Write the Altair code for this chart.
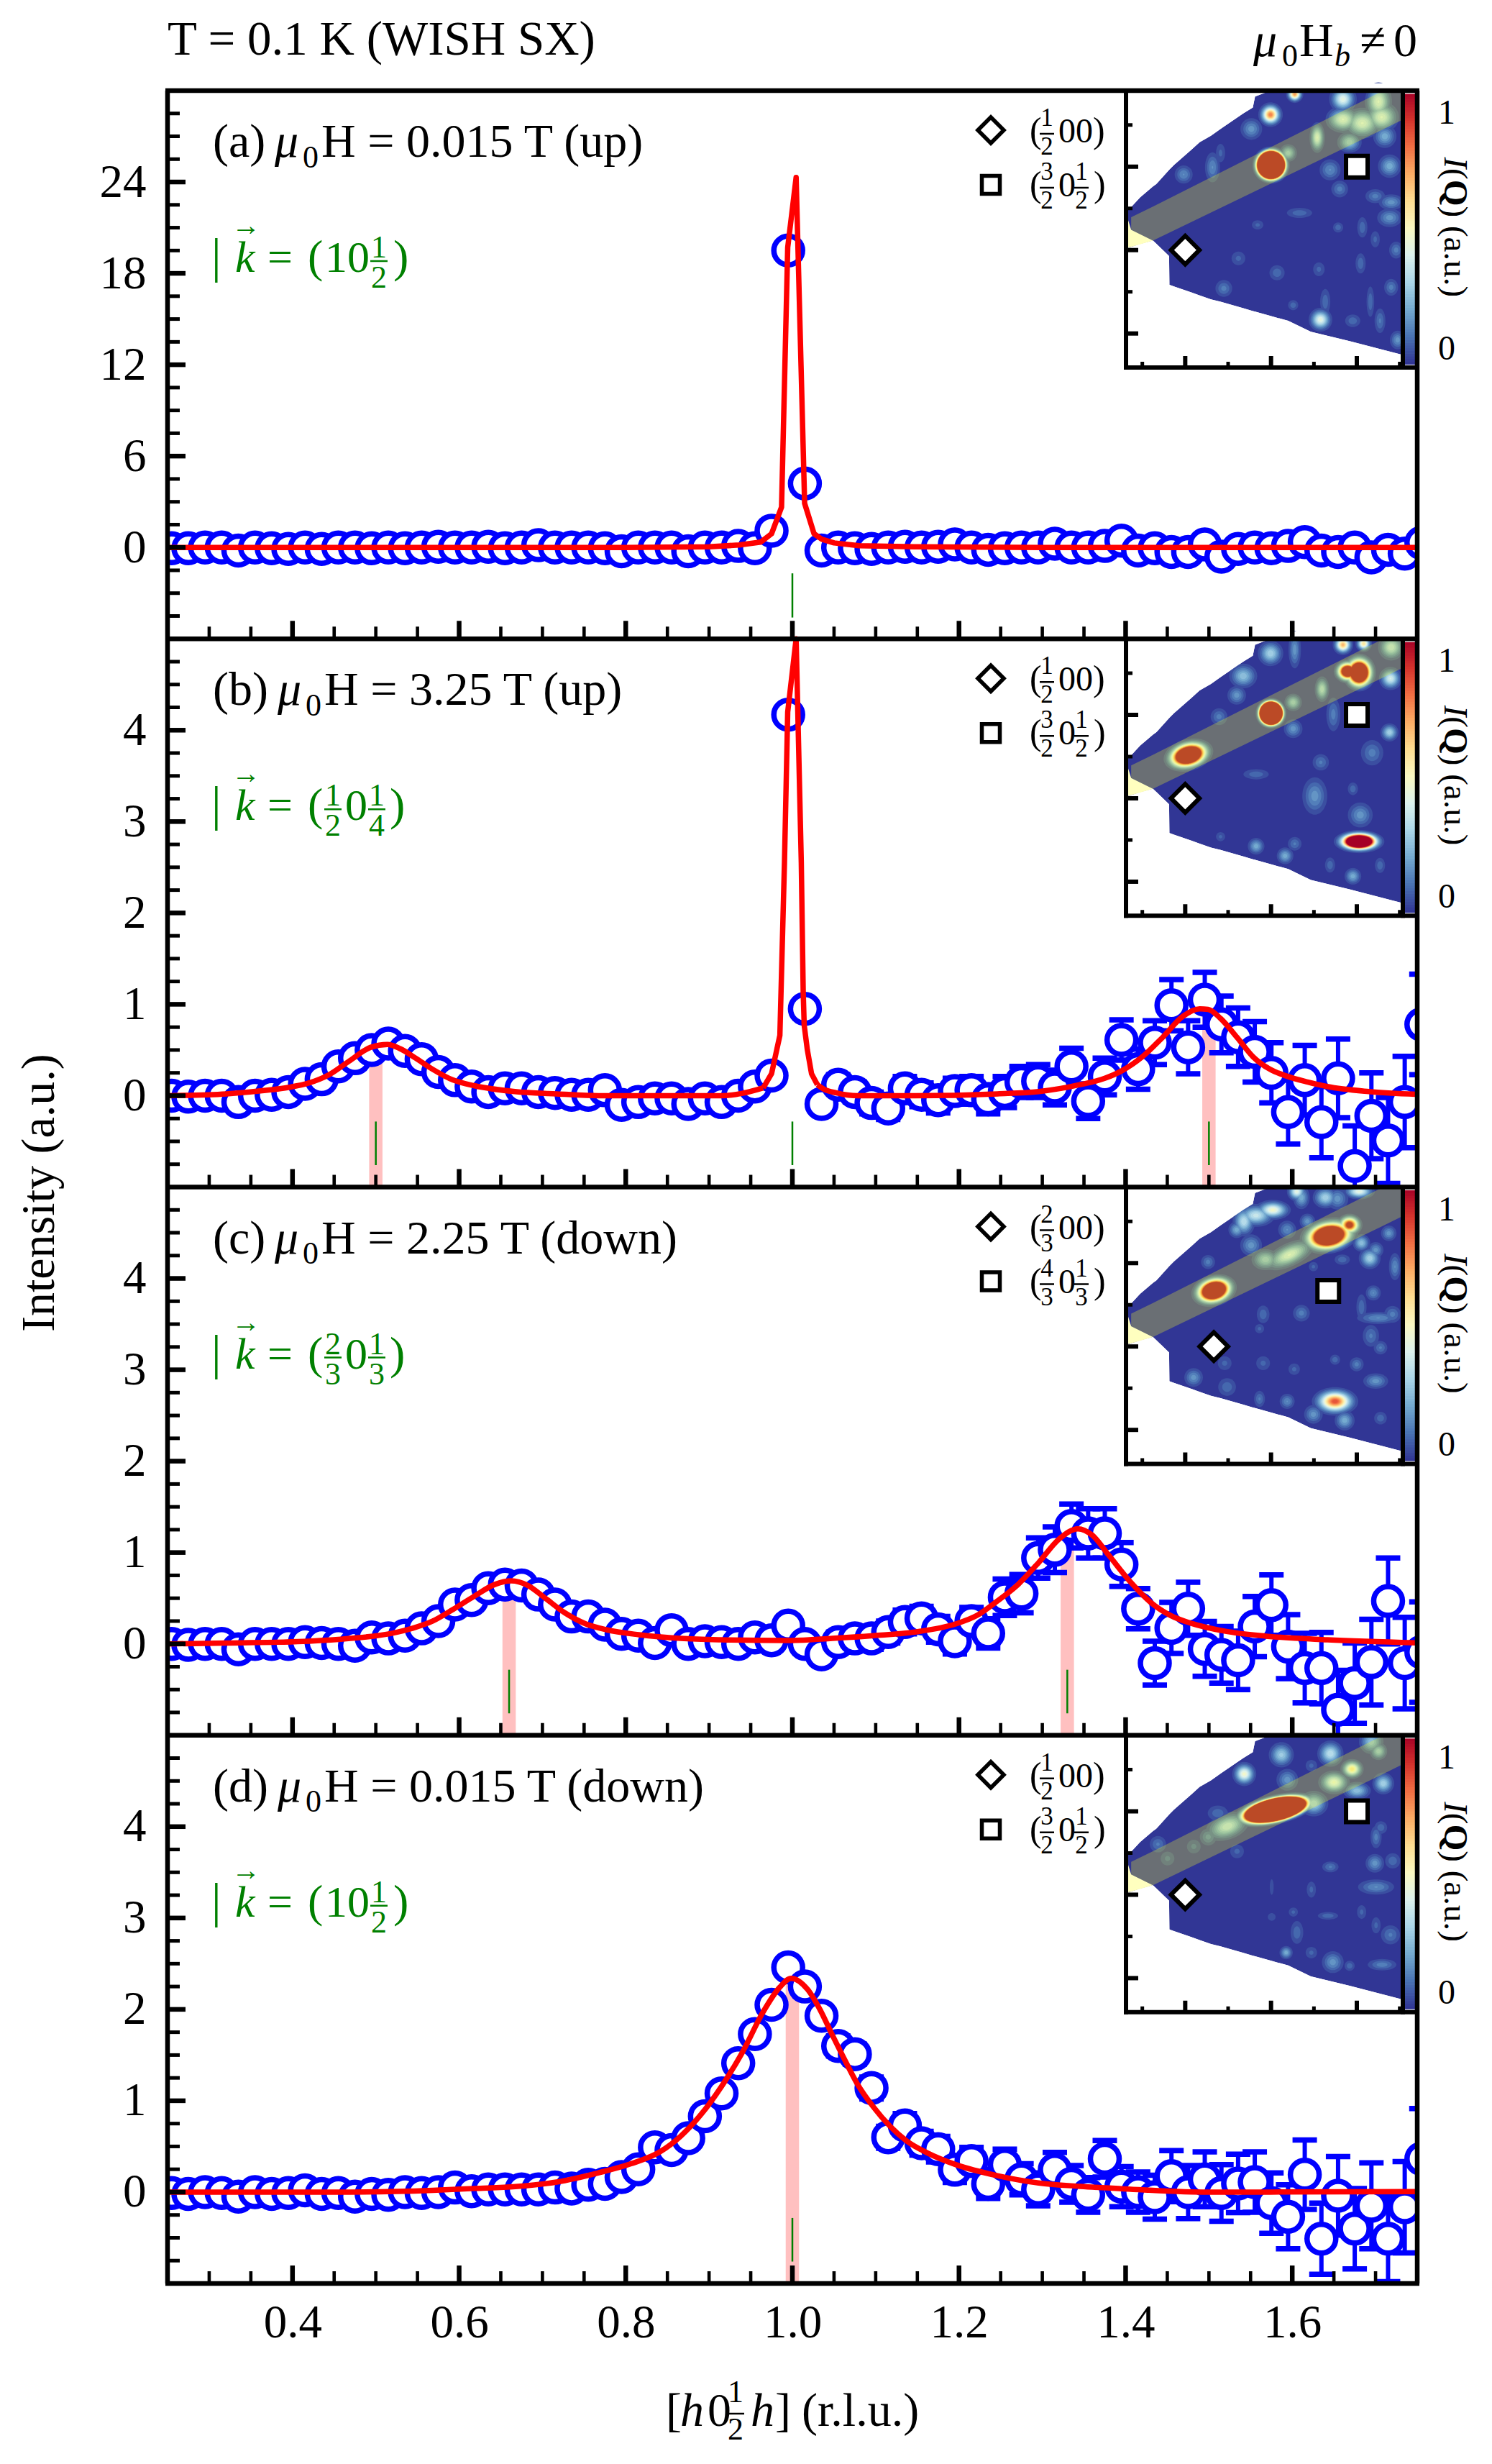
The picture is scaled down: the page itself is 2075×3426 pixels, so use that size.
import math
import altair as alt
import pandas as pd

# ---------- geometry of the page (pixels) ----------
OX, OY = 233, 126           # page position of plot origin
W, PH = 1738, 762.25        # plot width, one panel height
FONT = "Liberation Serif"
BLUE, RED, GREEN, PINK = "#0000ff", "#ff0000", "#008000", "#ffc0c0"

# ---------- data: 76 scan points, h = 0.255 + 0.02 k ----------
X = [round(0.255 + 0.02 * k, 3) for k in range(76)]

Y_A = [-.05,-.05,0,0,-.2,0,-.05,-.1,0,-.1,0,0,-.05,0,-.05,0,.05,0,0,.05,-.05,0,.15,0,0,0,-.05,-.25,0,0,0,-.25,0,0,.1,-.05,1.1,
       19.5,4.2,-.2,0,-.05,-.1,0,.05,0,.05,.2,0,-.15,-.05,0,0,.25,0,0,.1,.45,-.2,-.05,-.3,-.3,.2,-.6,-.1,0,-.05,.1,.35,-.2,-.3,0,-.65,-.15,-.4,.3]
Y_B = [0,-.01,0,0,-.07,0,.01,.04,.13,.18,.32,.41,.5,.57,.49,.4,.26,.17,.1,.04,.08,.08,.04,.03,.01,.01,.06,-.1,-.07,-.03,-.03,-.09,-.03,-.07,0,.1,.22,
       4.17,.95,-.09,.12,.04,-.08,-.14,.08,.01,-.05,.05,.06,-.04,.04,.15,.16,.09,.32,-.06,.21,.61,.29,.58,.99,.53,1.05,.78,.64,.48,.25,-.18,.17,-.29,.19,-.77,-.22,-.49,-.07,.78]
Y_C = [0,-.01,0,0,-.06,0,0,0,.02,.01,0,-.02,.07,.06,.09,.17,.25,.43,.48,.61,.65,.64,.54,.43,.3,.3,.21,.11,.09,.01,.15,0,.03,.02,0,.07,.04,.2,
       0,-.115,.02,.06,.06,.13,.24,.28,.16,.03,.25,.115,.51,.55,.94,1.03,1.29,1.21,1.21,.87,.385,-.21,.175,.385,-.055,-.12,-.18,.19,.425,-.03,-.265,-.265,-.72,-.43,-.2,.47,-.21,-.09]
Y_D = [-.01,-.02,0,-.01,-.05,0,-.02,-.01,.02,-.02,-.01,-.05,-.02,-.03,0,-.01,0,.05,.01,.03,.03,.03,.03,.05,.04,.08,.09,.165,.25,.49,.46,.59,.83,1.08,1.41,1.73,2.05,
       2.46,2.25,1.93,1.6,1.51,1.14,.6,.73,.535,.47,.245,.34,.09,.3,.14,.03,.245,.09,-.03,.365,.06,0,-.055,.175,0,.14,-.01,.095,.11,-.12,-.27,.19,-.51,-.04,-.4,-.15,-.51,-.165,.365]

ERR = [.03,.03,.03,.03,.03,.03,.03,.03,.04,.04,.04,.04,.04,.05,.05,.05,.05,.05,.05,.05,.05,.06,.06,.06,.06,.07,.07,.07,.07,.08,.08,.08,.08,.09,.09,.09,.1,.1,.1,.1,.11,.11,.12,.12,.13,.13,.14,.14,.15,.16,
       .17,.17,.18,.19,.2,.19,.2,.22,.22,.24,.28,.29,.3,.31,.32,.33,.33,.35,.38,.39,.43,.44,.47,.47,.5,.55]
ERR_C = ERR[:50] + [.2,.21,.22,.25,.24,.27,.27,.24] + ERR[58:]

FIT_A_X = [.25,.8,.9,.936,.962,.975,.987,.9944,1.0045,1.0147,1.026,1.035,1.05,1.08,1.15,1.3,1.75]
FIT_A_Y = [0,0,.05,.16,.35,.9,2.65,19.7,24.3,2.9,.9,.55,.3,.12,.04,0,0]
FIT_B_X = [.25,.3206,.37,.395,.42,.444,.469,.494,.514,.529,.548,.568,.593,.618,.667,.717,.767,.866,.915,.94,.965,.975,.98,.985,.9905,.9944,1.0045,
           1.0107,1.013,1.0142,1.018,1.023,1.03,1.038,1.053,1.078,1.147,1.246,1.296,1.345,1.375,1.395,1.42,1.444,1.469,1.489,1.499,1.514,1.534,1.553,1.573,1.593,1.618,1.642,1.692,1.749]
FIT_B_Y = [0,.02,.06,.09,.14,.23,.385,.53,.56,.515,.41,.29,.17,.11,.045,.02,0,0,0,.026,.085,.24,.45,.66,2.55,4.2,5.2,
           2.55,1.13,.77,.5,.24,.12,.07,.03,0,0,.02,.045,.12,.19,.27,.425,.635,.87,.95,.945,.845,.635,.425,.29,.215,.15,.1,.045,.015]
FIT_C_X = [.25,.3206,.4197,.4693,.5188,.5436,.5684,.5931,.6179,.6427,.6625,.6823,.7021,.7269,.7517,.7765,.8161,.8657,.9152,.9985,1.048,1.0974,1.147,1.1965,1.2213,1.2461,1.2708,1.2956,1.3204,1.3427,1.36,1.3798,1.4046,1.4294,1.4542,1.4789,1.5186,1.5681,1.6424,1.749]
FIT_C_Y = [0,.01,.03,.06,.115,.17,.25,.38,.52,.65,.69,.64,.51,.34,.22,.155,.1,.06,.045,.037,.06,.09,.13,.22,.31,.47,.65,.89,1.15,1.26,1.19,.97,.69,.46,.31,.225,.14,.085,.045,.012]
FIT_D_X = [.25,.4693,.5684,.6179,.6675,.717,.7666,.8062,.8409,.8657,.8904,.9152,.94,.9648,.9846,.9985,1.0181,1.033,1.0479,1.0627,1.0776,1.0974,1.1172,1.137,1.1618,1.1965,1.246,1.2956,1.3452,1.3947,1.4938,1.749]
FIT_D_Y = [0,0,.02,.04,.06,.11,.21,.31,.44,.61,.85,1.16,1.53,1.97,2.24,2.34,2.22,2.0,1.72,1.45,1.19,.93,.72,.56,.43,.3,.18,.1,.063,.037,0,.005]

# pink bars (position, top) and green tick positions
PINK_BARS = [[], [(.5,.56),(1.5,.95)], [(.66,.69),(1.33,1.26)], [(1.0,2.34)]]
GREEN_POS = [[1.0], [.5,1.0,1.5], [.66,1.33], [1.0]]
# h range of the fit drawn as straight segments (sharp Bragg peak)
SHARP = [(.25,1.75), (.965,1.03), None, None]

# inset: measured outline of the covered area of reciprocal space
POLY_H   = [.163,.172,.237,.312,.331,.406,.408,.434,.538,.584,.65,.706,.838,.894,.907,.997,1.1,1.232,1.457,1.7555]
POLY_TOP = [.244,.244,.316,.381,.395,.481,.483,.51,.603,.647,.685,.726,.819,.855,.92,.956,.956,.956,.956,.956]
POLY_BOT = [.014,.014,.037,.057,.039,-.036,-.208,-.218,-.254,-.272,-.295,-.31,-.348,-.365,-.369,-.395,-.424,-.489,-.546,-.625]
WEDGE_H, WEDGE_TOP, WEDGE_BOT = [.163,.185,.312], [.194,.122,.057], [.014,.019,.057]
BAND_H, BAND_TOP, BAND_BOT = [.185,.312,1.654,1.7555], [.197,.261,.956,.956], [.122,.057,.724,.776]

# inset spots: h, l, sigma_x(px), sigma_y(px), peak, tilt(deg)
SPOTS = [
 [ (1.0,.51,7,7,40,0),(.997,.812,7,7,.8,0),(1.138,.934,5,5,.75,0),(1.419,.905,7,7,.5,0),(.885,.726,7,7,.2,0),(1.269,.675,4,8,.45,0),(1.1,.582,5,5,.3,0),
   (1.419,.783,9,7,.45,0),(1.532,.761,10,8,.45,0),(1.644,.797,9,8,.45,0),(1.626,.89,7,10,.45,0),(1.457,.647,7,6,.3,0),(1.663,.682,7,7,.25,0),
   (.491,.453,6,6,.18,0),(.659,.496,5,10,.18,0),(.706,.582,4,8,.1,0),(1.691,.503,7,7,.25,0),(1.344,.481,7,7,.18,0),(1.4,.366,6,6,.15,0),(1.607,.323,7,5,.15,0),(1.7,.287,8,5,.2,0),(1.691,.194,8,6,.2,0),
   (1.166,.223,10,4,.12,0),(1.391,.136,4,4,.12,0),(1.532,.136,4,8,.12,0),(1.607,.065,4,7,.1,0),(1.729,0,5,6,.15,0),(.81,-.05,6,6,.1,0),(1.035,-.136,6,6,.12,0),(1.279,-.115,5,6,.1,0),(1.522,-.08,4,8,.12,0),
   (.725,-.23,6,6,.15,0),(1.7,-.223,5,6,.15,0),(1.288,-.417,6,6,.5,0),(1.129,-.33,4,4,.12,0),(1.476,-.424,6,5,.12,0),(1.635,-.424,4,9,.14,0),(1.579,-.309,3,12,.12,0),(1.316,-.309,4,10,.12,0),(1.738,-.539,5,6,.2,0),(.922,.151,5,4,.1,0) ],
 [ (1.0,.51,5.8,5.8,40,0),(.519,.259,12,7.5,3,345),(1.513,.754,8,9,3,0),(1.447,.761,7,6,2,0),(1.513,-.259,12,5.5,3,0),(.997,.869,7,7,.35,0),(.838,.733,8,7,.3,0),(.8,.618,6,6,.2,0),(1.138,.891,4,12,.2,0),
   (1.419,.92,6,6,.7,0),(1.54,.927,5,5,.6,0),(1.696,.718,6,6,.45,0),(1.7,.905,7,7,.4,0),(1.297,.654,4,7,.35,0),(1.129,.575,5,5,.3,0),(1.363,.503,5,12,.15,0),(1.129,.417,6,6,.2,0),(1.69,.395,5,5,.35,0),(1.589,.273,8,9,.15,0),
   (1.29,.216,6,6,.14,0),(.913,.144,10,4,.12,0),(1.255,.014,8,12,.2,0),(1.477,.057,4,5,.12,0),(.697,.489,6,6,.15,0),(.913,-.287,5,5,.25,0),(1.082,-.345,5,5,.25,0),(1.138,-.273,5,5,.14,0),(1.477,-.467,5,5,.25,0),(1.635,-.402,4,6,.12,0),(1.52,-.1,8,8,.2,0),(1.344,-.4,4,6,.12,0),(.706,-.23,4,4,.1,0) ],
 [ (.668,.336,11,7.5,3,345),(1.338,.664,14,8.5,3,350),(1.457,.729,7,6,1.2,0),(1.107,.55,14,6,.45,335),(.968,.521,8,6,.3,0),(1.373,-.329,13,8,.88,0),(1.429,-.443,6,6,.25,0),(1.247,-.407,6,6,.2,0),(1.61,-.207,8,5,.2,0),
   (1.01,.819,9,5,.55,0),(.912,.786,10,6,.42,0),(.842,.75,6,8,.4,0),(.8,.7,5,5,.25,0),(1.15,.929,5,5,.5,0),(1.177,.893,5,7,.25,0),(1.317,.893,7,6,.35,0),(1.513,.929,8,4,.5,0),(1.387,.886,7,7,.2,0),
   (1.575,.529,6,6,.35,0),(1.686,.679,5,5,.2,0),(1.722,.479,4,9,.18,0),(1.527,.621,5,5,.3,0),(1.61,.579,5,5,.2,0),(1.596,.321,5,5,.18,0),(1.527,.236,4,10,.12,0),(1.624,.171,14,4,.18,0),(1.708,.193,6,6,.15,0),(1.582,.064,6,8,.14,0),(1.638,-.007,5,5,.14,0),
   (1.499,-.107,5,5,.15,0),(1.373,-.079,4,4,.12,0),(1.177,.2,6,6,.15,0),(.954,.193,5,7,.12,0),(.933,.107,4,4,.1,0),(1.094,.7,6,6,.18,0),(.884,.607,7,7,.2,0),(.633,.507,5,5,.15,0),(1.212,.75,5,5,.2,0),(1.415,.521,6,4,.12,0),(1.247,.479,4,4,.1,0),
   (.549,-.186,6,6,.2,0),(.744,-.243,7,7,.12,0),(.73,-.1,6,6,.1,0),(.954,-.1,6,6,.1,0),(.933,-.314,4,6,.14,0),(1.094,-.329,5,5,.18,0),(1.135,-.136,5,5,.1,0),(1.638,-.429,5,5,.12,0) ],
 [ (1.025,.51,16,5.6,40,347),(.746,.41,12,7,.4,340),(1.249,.546,8,7,.35,0),(1.472,.753,7,6,.6,0),(1.367,.674,8,6,.5,0),(.844,.724,6,6,.55,0),(1.06,.839,7,7,.33,0),(1.346,.846,7,7,.4,0),(1.095,.689,7,7,.2,0),(1.5,.624,8,5,.3,0),(1.654,.667,6,6,.35,0),
   (1.584,.917,7,7,.3,0),(1.626,.86,5,5,.3,0),(1.235,.774,5,5,.1,0),(.69,.489,8,6,.12,0),(.341,.303,6,6,.14,0),(.802,.26,6,6,.1,0),(.634,.346,6,6,.15,0),(.55,.289,6,6,.1,0),(.397,.217,6,6,.1,0),(1.612,.346,4,8,.15,0),(1.64,.403,5,5,.12,0),
   (1.605,.189,6,6,.2,0),(1.709,.203,6,6,.12,0),(1.612,.046,12,5,.18,0),(1.346,.167,6,4,.14,0),(1.235,.031,4,7,.1,0),(1.004,.046,2,8,.08,0),(1.332,-.126,8,3,.12,0),(1.528,-.104,4,6,.1,0),(1.612,-.183,4,7,.1,0),(1.696,-.24,7,7,.14,0),
   (1.13,-.104,4,4,.1,0),(1.004,-.133,4,4,.08,0),(1.151,-.226,5,9,.12,0),(1.088,-.347,4,4,.25,0),(1.235,-.347,5,5,.1,0),(1.36,-.404,7,7,.2,0),(1.458,-.426,4,4,.12,0),(1.647,-.419,10,4,.16,0) ],
]
MARKS = [((.5,0),(1.5,.5)), ((.5,0),(1.5,.5)), ((2/3,0),(4/3,1/3)), ((.5,0),(1.5,.5))]
CBAR_T = [round(i * .01, 2) for i in range(100)]

PANELS = [
    dict(y=Y_A, err=None,  fx=FIT_A_X, fy=FIT_A_Y, dom=[-6,30], maj=[0,6,12,18,24], step=1.5, gy=(-1.7,-4.6)),
    dict(y=Y_B, err=ERR,   fx=FIT_B_X, fy=FIT_B_Y, dom=[-1,5],  maj=[0,1,2,3,4],    step=.25, gy=(-.283,-.76)),
    dict(y=Y_C, err=ERR_C, fx=FIT_C_X, fy=FIT_C_Y, dom=[-1,5],  maj=[0,1,2,3,4],    step=.25, gy=(-.283,-.76)),
    dict(y=Y_D, err=ERR,   fx=FIT_D_X, fy=FIT_D_Y, dom=[-1,5],  maj=[0,1,2,3,4],    step=.25, gy=(-.283,-.76)),
]

xscale = alt.Scale(domain=[.25,1.75], range=[0,W], nice=False, zero=False)
def nox(f="x:Q"): return alt.X(f, scale=xscale, axis=None)
def pxX(f): return alt.X(f, scale=None, axis=None)
def pxY(f): return alt.Y(f, scale=None, axis=None)

layers = []

def ring_rows(spots):
    rows = []
    for h, l, sx, sy, p, rot in spots:
        if p < .6:                 # faint, diffuse spots
            sx, sy, p = sx * 1.25, sy * 1.25, p * .9
        t = .04
        while t <= min(p, 1.0) + 1e-9:
            f = math.sqrt(2 * math.log(max(p / t, 1.0001)))
            a, b = round(sx * f, 2), round(sy * f, 2)
            rows.append(dict(h=h, l=l, t=round(t, 2), rot=rot,
                             path=f"M{-a},0A{a},{b},0,1,1,{a},0A{a},{b},0,1,1,{-a},0Z"))
            t += .04
    rows.sort(key=lambda r: r["t"])
    return rows

for i in reversed(range(4)):
    P = PANELS[i]
    top, bot = i * PH, (i + 1) * PH
    ys = alt.Scale(domain=P["dom"], range=[bot, top], clamp=True, nice=False, zero=False)
    ya = alt.Axis(orient="left", values=P["maj"], ticks=False, tickSize=0, domain=False, grid=False, title=None, format="d",
                  labelFont=FONT, labelFontSize=65, labelPadding=30, labelColor="black", labelOverlap=False)
    xa = alt.Axis(orient="bottom", values=[.4,.6,.8,1.0,1.2,1.4,1.6], ticks=False, tickSize=0, domain=False, grid=False, title=None, format=".1f",
                  labelFont=FONT, labelFontSize=65, labelPadding=23, labelColor="black", labelOverlap=False) if i == 3 else None
    lo_d, hi_d = P["dom"]
    Yn = lambda f: alt.Y(f, scale=ys, axis=None)

    # pink bars
    if PINK_BARS[i]:
        d = pd.DataFrame([dict(x=c-.008, x2=c+.008, y=lo_d, y2=t) for c, t in PINK_BARS[i]])
        layers.append(alt.Chart(d).mark_rect(color=PINK).encode(nox(), alt.X2("x2:Q"), Yn("y:Q"), alt.Y2("y2:Q")))

    df = pd.DataFrame(dict(x=X, y=P["y"]))
    if P["err"] is not None:
        df["lo"] = [a - b for a, b in zip(P["y"], P["err"])]
        df["hi"] = [a + b for a, b in zip(P["y"], P["err"])]
        layers.append(alt.Chart(df).mark_rule(color=BLUE, strokeWidth=6, clip=True).encode(nox(), Yn("lo:Q"), alt.Y2("hi:Q")))
        caps = pd.concat([df.assign(c=df.lo), df.assign(c=df.hi)])
        caps = caps[(caps.c > lo_d) & (caps.c < hi_d)][["x", "c"]]
        layers.append(alt.Chart(caps).mark_tick(orient="horizontal", size=34, thickness=7.5, color=BLUE, opacity=1, clip=True).encode(nox(), Yn("c:Q")))

    # circles carry the visible axes
    layers.append(alt.Chart(df[["x","y"]]).mark_point(shape="circle", size=1600, fill="white", stroke=BLUE, strokeWidth=7.5, opacity=1, clip=True).encode(
        alt.X("x:Q", scale=xscale, axis=xa), alt.Y("y:Q", scale=ys, axis=ya)))

    # fit: smooth parts and, where there is a Bragg peak, straight segments
    fit = pd.DataFrame(dict(x=P["fx"], y=P["fy"]))
    parts = []
    if SHARP[i] is None:
        parts = [(fit, "monotone")]
    else:
        a, b = SHARP[i]
        parts = [(fit[fit.x <= a], "monotone"), (fit[(fit.x >= a) & (fit.x <= b)], "linear"), (fit[fit.x >= b], "monotone")]
    for part, interp in parts:
        if len(part) > 1:
            layers.append(alt.Chart(part).mark_line(color=RED, strokeWidth=7.5, interpolate=interp, clip=True, strokeJoin="round").encode(nox(), Yn("y:Q")))

    # green markers
    d = pd.DataFrame([dict(x=g, y=P["gy"][0], y2=P["gy"][1]) for g in GREEN_POS[i]])
    layers.append(alt.Chart(d).mark_rule(color=GREEN, strokeWidth=2.5).encode(nox(), Yn("y:Q"), alt.Y2("y2:Q")))

    # y ticks
    n = round((hi_d - lo_d) / P["step"])
    vals = [round(lo_d + P["step"] * k, 3) for k in range(n + 1)]
    ymaj = [v for v in vals if v in P["maj"]]
    ymin = [v for v in vals if v not in P["maj"] and lo_d < v < hi_d]
    layers.append(alt.Chart(pd.DataFrame(dict(v=ymaj))).mark_rule(color="black", strokeWidth=6.5).encode(x=alt.value(0), x2=alt.value(25), y=Yn("v:Q")))
    layers.append(alt.Chart(pd.DataFrame(dict(v=ymin))).mark_rule(color="black", strokeWidth=5).encode(x=alt.value(0), x2=alt.value(17), y=Yn("v:Q")))

    # ---- inset ----
    ix0, ix1 = 1566 - OX, 1948 - OX
    hs = alt.Scale(domain=[.155,1.7555], range=[ix0, ix1], nice=False, zero=False)
    ls = alt.Scale(domain=[-.704,.956], range=[top + 385, top], nice=False, zero=False)
    H = alt.X("h:Q", scale=hs, axis=None)
    Lb = alt.Y("l:Q", scale=ls, axis=None)

    poly = pd.DataFrame(dict(h=POLY_H, l=POLY_BOT, l2=POLY_TOP))
    layers.append(alt.Chart(poly).mark_area(color="#313695", opacity=1, orient="vertical").encode(H, Lb, alt.Y2("l2:Q")))

    rings = pd.DataFrame(ring_rows(SPOTS[i]))
    layers.append(alt.Chart(rings).mark_point(filled=True, size=4, opacity=1, strokeWidth=0).encode(
        H, Lb,
        alt.Shape("path:N", scale=None),
        alt.Angle("rot:Q", scale=None),
        alt.Color("t:Q", scale=alt.Scale(scheme="redyellowblue", reverse=True, domain=[0,1]), legend=None)))

    # white outside the measured outline
    mt = pd.DataFrame(dict(h=[.155] + POLY_H, l=[-.7] + POLY_TOP, l2=[1.0] * (len(POLY_H) + 1)))
    mb = pd.DataFrame(dict(h=[.155] + POLY_H, l=[-.72] * (len(POLY_H) + 1), l2=[.956] + POLY_BOT))
    layers.append(alt.Chart(mt).mark_area(color="white", opacity=1, orient="vertical").encode(H, Lb, alt.Y2("l2:Q")))
    layers.append(alt.Chart(mb).mark_area(color="white", opacity=1, orient="vertical").encode(H, Lb, alt.Y2("l2:Q")))
    rm = pd.DataFrame(dict(x=[ix1], x2=[1995 - OX], y=[top - 6], y2=[top + 392]))
    layers.append(alt.Chart(rm).mark_rect(color="white", opacity=1).encode(pxX("x:Q"), alt.X2("x2:Q"), pxY("y:Q"), alt.Y2("y2:Q")))

    wedge = pd.DataFrame(dict(h=WEDGE_H, l=WEDGE_BOT, l2=WEDGE_TOP))
    layers.append(alt.Chart(wedge).mark_area(color="#ffffbf", opacity=1, orient="vertical").encode(H, Lb, alt.Y2("l2:Q")))
    band = pd.DataFrame(dict(h=BAND_H, l=BAND_BOT, l2=BAND_TOP))
    layers.append(alt.Chart(band).mark_area(color="#f0f528", opacity=.3, orient="vertical").encode(H, Lb, alt.Y2("l2:Q")))

    (dh, dl), (sh, sl) = MARKS[i]
    layers.append(alt.Chart(pd.DataFrame(dict(h=[dh], l=[dl]))).mark_point(shape="diamond", size=1560, fill="white", stroke="black", strokeWidth=6, opacity=1).encode(H, Lb))
    layers.append(alt.Chart(pd.DataFrame(dict(h=[sh], l=[sl]))).mark_point(shape="square", size=900, fill="white", stroke="black", strokeWidth=6, opacity=1).encode(H, Lb))

    # inset ticks
    b_px, l_px = top + 385, ix0
    for vals_, ln, w in (([.5,1.0,1.5], 16, 6), ([.25,.75,1.25,1.75], 8, 5)):
        layers.append(alt.Chart(pd.DataFrame(dict(h=vals_))).mark_rule(color="black", strokeWidth=w).encode(H, y=alt.value(b_px), y2=alt.value(b_px - ln)))
    for vals_, ln, w in (([.5,0,-.5], 17, 6), ([.75,.25,-.25], 9, 5)):
        layers.append(alt.Chart(pd.DataFrame(dict(l=vals_))).mark_rule(color="black", strokeWidth=w).encode(x=alt.value(l_px), x2=alt.value(l_px + ln), y=Lb))

    # colour bar
    cb = pd.DataFrame(dict(t=CBAR_T, t2=[min(t + .012, 1.0) for t in CBAR_T], c=CBAR_T, x=[1954 - OX] * 100, x2=[1968 - OX] * 100))
    tb = alt.Scale(domain=[0,1], range=[top + 381, top + 4.5], nice=False, zero=False)
    layers.append(alt.Chart(cb).mark_rect(opacity=1).encode(
        pxX("x:Q"), alt.X2("x2:Q"), alt.Y("t:Q", scale=tb, axis=None), alt.Y2("t2:Q"),
        alt.Color("c:Q", scale=alt.Scale(scheme="redyellowblue", reverse=True, domain=[0,1]), legend=None)))

# ---------- x ticks on each panel ----------
rows = []
for i in range(4):
    b = (i + 1) * PH
    for k in range(31):
        v = round(.25 + .05 * k, 2)
        if abs((v * 10) % 2) < 1e-6 and .3 < v < 1.7:
            rows.append(dict(v=v, y=b, y2=b - 25, w=6.5))
        elif .25 < v < 1.75:
            rows.append(dict(v=v, y=b, y2=b - 17, w=4.6))
xt = pd.DataFrame(rows)
layers.append(alt.Chart(xt).mark_rule(color="black").encode(nox("v:Q"), pxY("y:Q"), alt.Y2("y2:Q"), alt.StrokeWidth("w:Q", scale=None)))

# ---------- frames and fraction bars (page pixels) ----------
seg = []
def S(x, y, x2, y2, w=6.5, c="black"):
    seg.append(dict(x=x-OX, y=y-OY, x2=x2-OX, y2=y2-OY, w=w, c=c))
T_ROWS = []
def T(x, y, s, size=66, color="black", style="normal", align="left", angle=0):
    T_ROWS.append(dict(x=x-OX, y=y-OY, s=s, size=size, color=color, style=style, align=align, angle=angle))

for i in range(5):
    yy = OY + i * PH
    S(OX - 3, yy, OX + W + 3, yy)
S(OX, OY, OX, OY + 4 * PH)
S(OX + W, OY, OX + W, OY + 4 * PH)
for i in range(4):
    top = OY + i * PH
    S(1566, top, 1566, top + 388, 6)
    S(1563, top + 385, OX + W, top + 385, 6)
    S(1951, top, 1951, top + 388, 6)

def frac(cx, half, ybar, num, den, yn, yd, size, color="black"):
    S(cx - half, ybar, cx + half, ybar, 2.5, color)
    T(cx, yn, num, size, color, align="center")
    T(cx, yd, den, size, color, align="center")

labels = [("(a)", "H = 0.015 T (up)", 0), ("(b)", "H = 3.25 T (up)", 4), ("(c)", "H = 2.25 T (down)", 0), ("(d)", "H = 0.015 T (down)", 4)]
legf = [("1","2","3","2","1","2"), ("1","2","3","2","1","2"), ("2","3","4","3","1","3"), ("1","2","3","2","1","2")]
lm = []
for i in range(4):
    d = i * PH
    lab, rest, sh = labels[i]
    T(296, 218 + d, lab)
    T(382 + sh, 218 + d, "μ", style="italic")
    T(421 + sh, 232.5 + d, "0", 44)
    T(447 + sh, 218 + d, rest)
    # propagation vector
    T(294, 379 + d, "|", 68, GREEN)
    T(327, 378 + d, "k", 62, GREEN, style="italic")
    T(342, 327 + d, "→", 40, GREEN, align="center")
    T(372, 378 + d, "=", 62, GREEN)
    T(428, 378 + d, "(", 64, GREEN)
    if i in (0, 3):
        T(452, 378 + d, "10", 62, GREEN)
        frac(527, 12, 363 + d, "1", "2", 358 + d, 400 + d, 44, GREEN)
        T(547, 378 + d, ")", 64, GREEN)
    else:
        a, b = ("1","2") if i == 1 else ("2","3")
        c, e = ("1","4") if i == 1 else ("1","3")
        frac(463, 12, 363 + d, a, b, 358 + d, 400 + d, 44, GREEN)
        T(480, 378 + d, "0", 62, GREEN)
        frac(524, 12, 363 + d, c, e, 358 + d, 400 + d, 44, GREEN)
        T(542, 378 + d, ")", 64, GREEN)
    # legend
    n1, d1, n2, d2, n3, d3 = legf[i]
    lm.append(dict(x=1378 - OX, y=181 - OY + d, k="diamond", size=1300))
    lm.append(dict(x=1378 - OX, y=257 - OY + d, k="square", size=625))
    T(1432, 198 + d, "(", 50)
    frac(1456, 10, 186 + d, n1, d1, 175 + d, 215 + d, 35)
    T(1472, 198 + d, "00", 48)
    T(1520, 198 + d, ")", 50)
    T(1432, 273 + d, "(", 50)
    frac(1456, 10, 261 + d, n2, d2, 250 + d, 290 + d, 35)
    T(1472, 273 + d, "0", 48)
    frac(1504, 10, 261 + d, n3, d3, 250 + d, 290 + d, 35)
    T(1521, 273 + d, ")", 50)
    # colour bar text
    top = OY + i * PH
    T(2012, top + 46, "1", 48, align="center")
    T(2012, top + 373.5, "0", 48, align="center")
    T(2009, top + 92.5, "I", 47, style="italic", angle=90)
    T(2009, top + 108, "(", 47, angle=90)
    T(2009, top + 124, "Q", 47, style="bold", angle=90)
    T(2009, top + 160.5, ") (a.u.)", 47, angle=90)

# page titles
T(233, 76, "T = 0.1 K (WISH SX)", 67)
T(1743, 77.5, "μ", 66, style="italic")
T(1783, 92, "0", 44)
T(1807, 77.5, "H", 66)
T(1856, 92, "b", 44, style="italic")
T(1891, 77.5, "≠", 66)
T(1938, 77.5, "0", 66)
T(75, 1852, "Intensity (a.u.)", 66, angle=270)
T(926, 3373, "[", 66)
T(946, 3373, "h", 66, style="italic")
T(984, 3373, "0", 66)
frac(1023, 12, 3356, "1", "2", 3340, 3392, 44)
T(1044, 3373, "h", 66, style="italic")
T(1078, 3373, "]", 66)
T(1115, 3373, "(r.l.u.)", 66)

layers.append(alt.Chart(pd.DataFrame(seg)).mark_rule(strokeCap="butt").encode(
    pxX("x:Q"), alt.X2("x2:Q"), pxY("y:Q"), alt.Y2("y2:Q"),
    alt.StrokeWidth("w:Q", scale=None), alt.Color("c:N", scale=None)))

lm = pd.DataFrame(lm)
for k, g in lm.groupby("k"):
    layers.append(alt.Chart(g).mark_point(shape=k, fill="white", stroke="black", strokeWidth=5.5, opacity=1).encode(
        pxX("x:Q"), pxY("y:Q"), alt.Size("size:Q", scale=None)))

tdf = pd.DataFrame(T_ROWS)
for (style, align), g in tdf.groupby(["style", "align"]):
    kw = dict(font=FONT, align=align, baseline="alphabetic")
    if style == "italic": kw["fontStyle"] = "italic"
    if style == "bold": kw["fontWeight"] = "bold"
    layers.append(alt.Chart(g).mark_text(**kw).encode(
        pxX("x:Q"), pxY("y:Q"), alt.Text("s:N"),
        alt.Size("size:Q", scale=None), alt.Color("color:N", scale=None), alt.Angle("angle:Q", scale=None)))

chart = alt.layer(*layers).resolve_scale(x="independent", y="independent", color="independent").properties(
    width=W, height=4 * PH,
    autosize=alt.AutoSizeParams(type="none"),
    padding={"left": OX - 8, "top": OY - 8, "right": 96, "bottom": 251},
).configure_view(stroke=None).configure(background="white")

chart.save("out.html", embed_options={"renderer": "svg", "actions": False})
